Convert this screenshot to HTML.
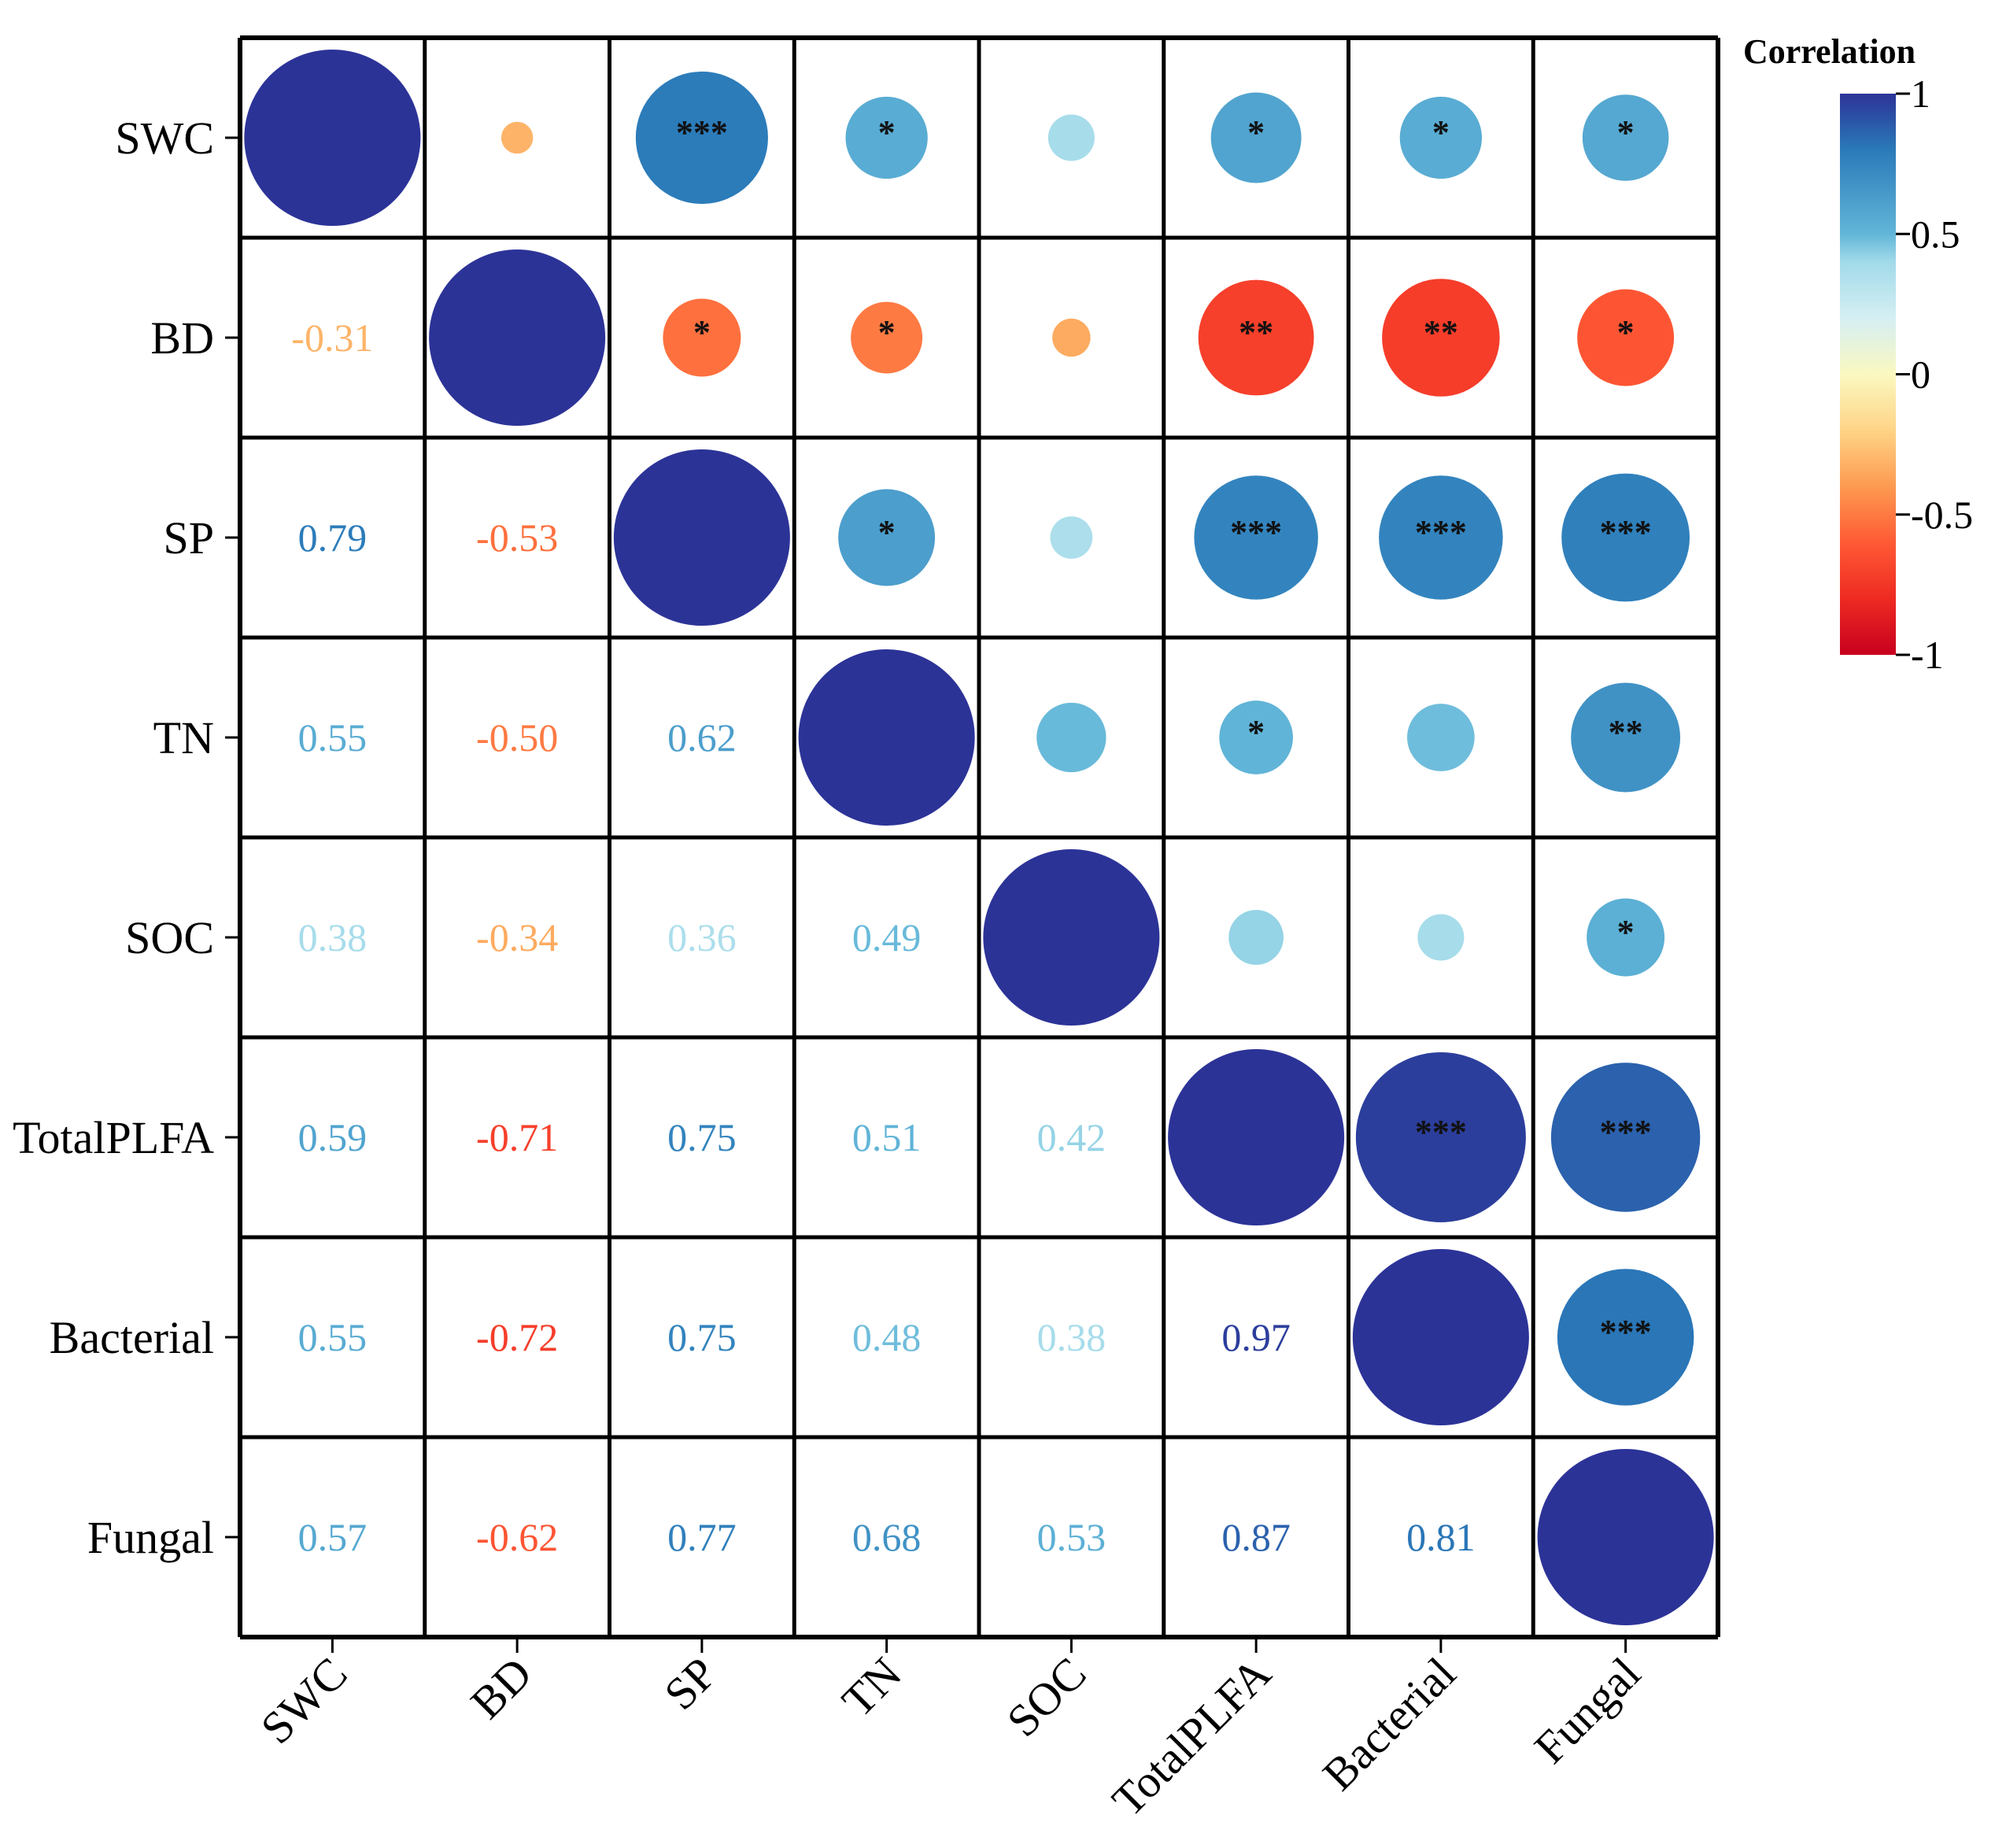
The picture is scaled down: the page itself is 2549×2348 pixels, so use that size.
<!DOCTYPE html>
<html><head><meta charset="utf-8"><style>
html,body{margin:0;padding:0;background:#fff;}
svg{display:block;font-family:"Liberation Serif","DejaVu Serif",serif;}
</style></head><body>
<svg id="chart" width="2549" height="2348" viewBox="0 0 2549 2348" xmlns="http://www.w3.org/2000/svg">
<defs>
<linearGradient id="cbgrad" x1="0" y1="1" x2="0" y2="0">
<stop offset="0" stop-color="#c8001e"/><stop offset="0.1" stop-color="#ee2a22"/><stop offset="0.2" stop-color="#ff5a35"/><stop offset="0.3" stop-color="#fd9a50"/><stop offset="0.4" stop-color="#fed487"/><stop offset="0.5" stop-color="#fbf8c0"/><stop offset="0.6" stop-color="#d5eff3"/><stop offset="0.7" stop-color="#a2daea"/><stop offset="0.75" stop-color="#62b6d8"/><stop offset="0.9" stop-color="#2a7ab9"/><stop offset="1" stop-color="#2c3397"/>
</linearGradient>
</defs>
<g id="cells"></g>
<g id="grid"></g>
<g id="axes"></g>
<g id="colorbar">
<text x="2215" y="80" font-size="44" font-weight="bold">Correlation</text>
<rect x="2338" y="119" width="71" height="713" fill="url(#cbgrad)"/>
</g>
</svg>
<script>
const labels = ["SWC","BD","SP","TN","SOC","TotalPLFA","Bacterial","Fungal"];
const corrRows = [
 [1],
 [-0.31,1],
 [0.79,-0.53,1],
 [0.55,-0.50,0.62,1],
 [0.38,-0.34,0.36,0.49,1],
 [0.59,-0.71,0.75,0.51,0.42,1],
 [0.55,-0.72,0.75,0.48,0.38,0.97,1],
 [0.57,-0.62,0.77,0.68,0.53,0.87,0.81,1]
];
const sigRows = [
 [""],
 ["",""],
 ["***","*",""],
 ["*","*","*",""],
 ["","","","",""],
 ["*","**","***","*","",""],
 ["*","**","***","","","***",""],
 ["*","*","***","**","*","***","***",""]
];
const cbTicks = [1,0.5,0,-0.5,-1];
const cbTickLabels = ["1","0.5","0","-0.5","-1"];

const NS="http://www.w3.org/2000/svg";
const L=305,T=48,R=2183,B=2080,n=labels.length;
const cw=(R-L)/n, ch=(B-T)/n;
const xc=i=>L+cw*(i+0.5), yc=i=>T+ch*(i+0.5);
const rad=v=>Math.max(0,133*Math.abs(v)-21);
const stopPos=[0,0.1,0.2,0.3,0.4,0.5,0.6,0.7,0.75,0.9,1];
const stops=["#c8001e","#ee2a22","#ff5a35","#fd9a50","#fed487","#fbf8c0","#d5eff3","#a2daea","#62b6d8","#2a7ab9","#2c3397"];
function hex(h){return [1,3,5].map(k=>parseInt(h.substr(k,2),16));}
function cmap(v){let t=(v+1)/2;let i=0;while(i<stopPos.length-2&&t>stopPos[i+1])i++;let f=(t-stopPos[i])/(stopPos[i+1]-stopPos[i]);f=Math.max(0,Math.min(1,f));let a=hex(stops[i]),b=hex(stops[i+1]);return "rgb("+a.map((c,k)=>Math.round(c+(b[k]-c)*f)).join(",")+")";}
function el(tag,attrs,parent){const e=document.createElementNS(NS,tag);for(const k in attrs)e.setAttribute(k,attrs[k]);parent.appendChild(e);return e;}
function corr(i,j){return i>=j?corrRows[i][j]:corrRows[j][i];}
function sig(i,j){return i>=j?sigRows[i][j]:sigRows[j][i];}
const cells=document.getElementById('cells');
for(let i=0;i<n;i++)for(let j=0;j<n;j++){
 const v=corr(i,j);
 if(j>=i){
  const c=el('circle',{cx:xc(j),cy:yc(i),r:rad(v),fill:cmap(v)},cells);
  
  
  const s=sig(i,j);
  if(s&&j>i){
   const t=el('text',{x:xc(j),y:yc(i)+8,'text-anchor':'middle','font-size':44,'font-weight':'bold',fill:'#111'},cells);
   t.textContent=s;
   
   
  }
 } else {
  const t=el('text',{x:xc(j),y:yc(i)+17,'text-anchor':'middle','font-size':50,fill:cmap(v)},cells);
  t.textContent=v.toFixed(2);
  
  
 }
}
const grid=document.getElementById('grid');
for(let k=0;k<=n;k++){
 const w=(k==0||k==n)?6:5;
 const a=el('line',{x1:L+cw*k,y1:T,x2:L+cw*k,y2:B,stroke:'#000','stroke-width':w},grid);
 
 
 const b=el('line',{x1:L,y1:T+ch*k,x2:R,y2:T+ch*k,stroke:'#000','stroke-width':w},grid);
 
 
}
const axes=document.getElementById('axes');
for(let i=0;i<n;i++){
 const tk=el('line',{x1:286,y1:yc(i),x2:L,y2:yc(i),stroke:'#000','stroke-width':3},axes);
 
 
 const yl=el('text',{x:272,y:yc(i)+20,'text-anchor':'end','font-size':58},axes);
 yl.textContent=labels[i];
 
 
 const xt=el('line',{x1:xc(i),y1:B,x2:xc(i),y2:B+20,stroke:'#000','stroke-width':3},axes);
 
 
 const xl=el('text',{transform:'translate('+(xc(i)+22)+','+(B+50)+') rotate(-45)','text-anchor':'end','font-size':58},axes);
 xl.textContent=labels[i];
 
 
}
const cb=document.getElementById('colorbar');
const cbY=v=>119+(1-v)/2*713;
cbTicks.forEach((v,k)=>{
 const l=el('line',{x1:2409,y1:cbY(v),x2:2427,y2:cbY(v),stroke:'#000','stroke-width':3},cb);
 
 
 const t=el('text',{x:2428,y:cbY(v)+17,'font-size':50},cb);
 t.textContent=cbTickLabels[k];
 
 
});
</script>
</body></html>
